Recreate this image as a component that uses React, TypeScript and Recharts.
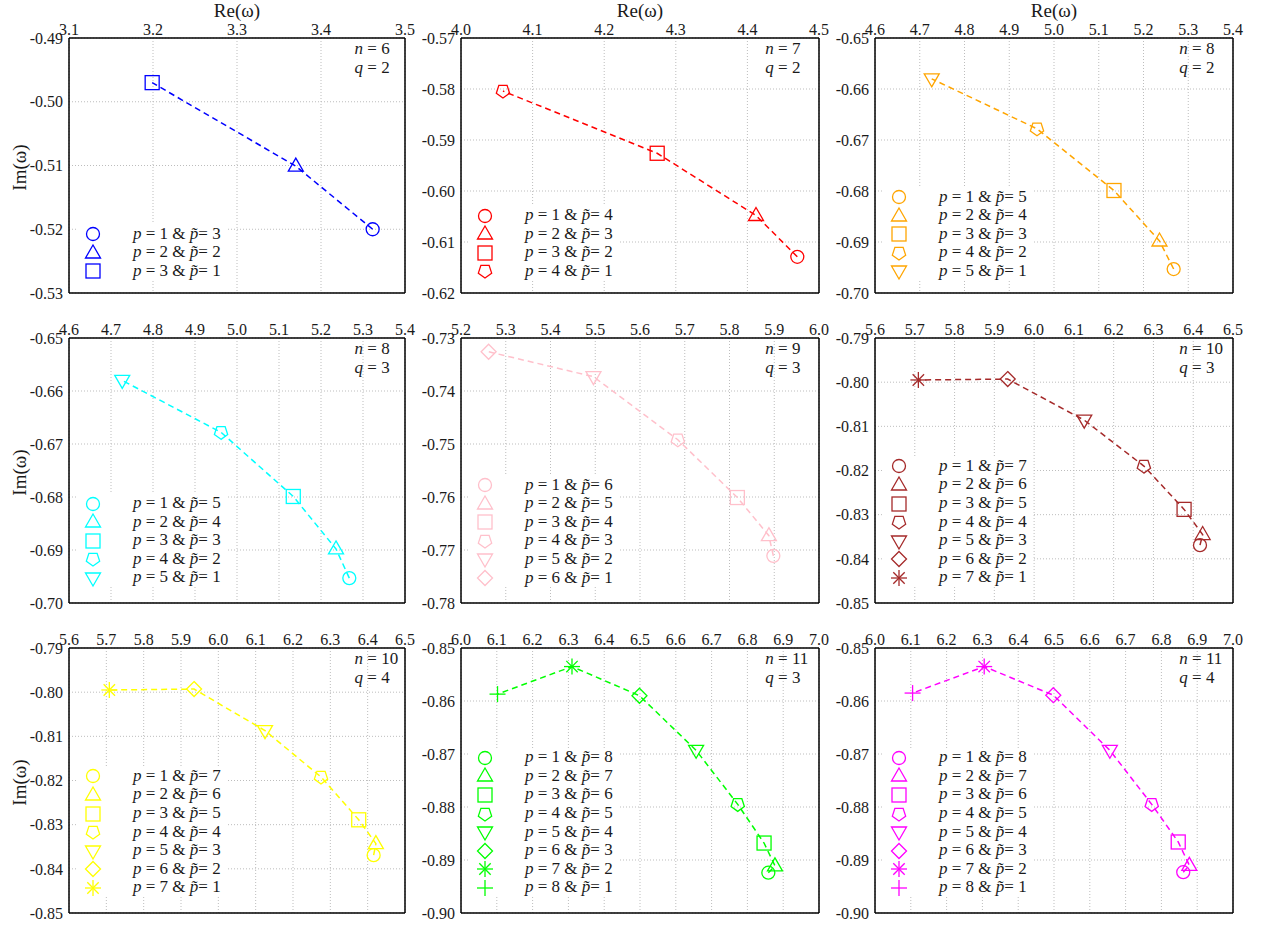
import { ScatterChart, Scatter, XAxis, YAxis, CartesianGrid } from 'recharts';

const FONT = '"Liberation Serif", "DejaVu Serif", serif';

// marker used for p = 1, 2, 3 ...
const MARKERS = ['circle', 'triangle', 'square', 'pentagon', 'triangleDown', 'diamond', 'asterisk', 'plus'];

// Re(ω) / Im(ω), index 0 is p = 1
const N6Q2_RE = [3.4615, 3.37, 3.199];
const N6Q2_IM = [-0.52, -0.5101, -0.497];

const N7Q2_RE = [4.4697, 4.412, 4.274, 4.0586];
const N7Q2_IM = [-0.6129, -0.6048, -0.5926, -0.5804];

const N8Q2_RE = [5.2674, 5.2357, 5.134, 4.962, 4.7267];
const N8Q2_IM = [-0.6953, -0.6898, -0.6799, -0.6678, -0.658];

const N8Q3_RE = [5.2674, 5.2357, 5.134, 4.962, 4.7267];
const N8Q3_IM = [-0.6953, -0.6898, -0.6799, -0.6678, -0.658];

const N9Q3_RE = [5.898, 5.888, 5.8176, 5.6845, 5.496, 5.2617];
const N9Q3_IM = [-0.7711, -0.7673, -0.7601, -0.7492, -0.7373, -0.7326];

const N10Q3_RE = [6.417, 6.4237, 6.377, 6.276, 6.126, 5.9336, 5.709];
const N10Q3_IM = [-0.8369, -0.8345, -0.8288, -0.819, -0.8086, -0.7993, -0.7995];

const N10Q4_RE = [6.416, 6.422, 6.376, 6.275, 6.125, 5.935, 5.708];
const N10Q4_IM = [-0.8369, -0.8343, -0.8289, -0.8192, -0.8087, -0.7993, -0.7995];

const N11Q3_RE = [6.8585, 6.877, 6.8465, 6.773, 6.6567, 6.4985, 6.31, 6.102];
const N11Q3_IM = [-0.8924, -0.8911, -0.8868, -0.8795, -0.8693, -0.859, -0.8535, -0.8587];

const N11Q4_RE = [6.861, 6.878, 6.847, 6.773, 6.656, 6.498, 6.305, 6.105];
const N11Q4_IM = [-0.8923, -0.891, -0.8866, -0.8795, -0.8693, -0.8589, -0.8535, -0.8585];

// tick labels
const XT_A = [3.1, 3.2, 3.3, 3.4, 3.5];
const YT_A = [-0.53, -0.52, -0.51, -0.5, -0.49];
const XT_B = [4.0, 4.1, 4.2, 4.3, 4.4, 4.5];
const YT_B = [-0.62, -0.61, -0.6, -0.59, -0.58, -0.57];
const XT_C = [4.6, 4.7, 4.8, 4.9, 5.0, 5.1, 5.2, 5.3, 5.4];
const YT_C = [-0.7, -0.69, -0.68, -0.67, -0.66, -0.65];
const XT_D = [5.2, 5.3, 5.4, 5.5, 5.6, 5.7, 5.8, 5.9, 6.0];
const YT_D = [-0.78, -0.77, -0.76, -0.75, -0.74, -0.73];
const XT_E = [5.6, 5.7, 5.8, 5.9, 6.0, 6.1, 6.2, 6.3, 6.4, 6.5];
const YT_E = [-0.85, -0.84, -0.83, -0.82, -0.81, -0.8, -0.79];
const XT_F = [6.0, 6.1, 6.2, 6.3, 6.4, 6.5, 6.6, 6.7, 6.8, 6.9, 7.0];
const YT_F = [-0.9, -0.89, -0.88, -0.87, -0.86, -0.85];

const PANELS = [
  { row: 0, col: 0, n: 6, q: 2, color: '#0000ff', re: N6Q2_RE, im: N6Q2_IM, xt: XT_A, yt: YT_A },
  { row: 0, col: 1, n: 7, q: 2, color: '#ff0000', re: N7Q2_RE, im: N7Q2_IM, xt: XT_B, yt: YT_B },
  { row: 0, col: 2, n: 8, q: 2, color: '#ffa500', re: N8Q2_RE, im: N8Q2_IM, xt: XT_C, yt: YT_C },
  { row: 1, col: 0, n: 8, q: 3, color: '#00ffff', re: N8Q3_RE, im: N8Q3_IM, xt: XT_C, yt: YT_C },
  { row: 1, col: 1, n: 9, q: 3, color: '#ffc0cb', re: N9Q3_RE, im: N9Q3_IM, xt: XT_D, yt: YT_D },
  { row: 1, col: 2, n: 10, q: 3, color: '#a52a2a', re: N10Q3_RE, im: N10Q3_IM, xt: XT_E, yt: YT_E },
  { row: 2, col: 0, n: 10, q: 4, color: '#ffff00', re: N10Q4_RE, im: N10Q4_IM, xt: XT_E, yt: YT_E },
  { row: 2, col: 1, n: 11, q: 3, color: '#00ff00', re: N11Q3_RE, im: N11Q3_IM, xt: XT_F, yt: YT_F },
  { row: 2, col: 2, n: 11, q: 4, color: '#ff00ff', re: N11Q4_RE, im: N11Q4_IM, xt: XT_F, yt: YT_F },
];

// plot-area boxes in page pixels
const COLS = [
  { left: 69, width: 336 },
  { left: 461, width: 358 },
  { left: 875, width: 358 },
];
const ROWS = [
  { top: 38, height: 255, legendBottom: 21.5 },
  { top: 338, height: 265, legendBottom: 25 },
  { top: 648, height: 265, legendBottom: 25 },
];

const ML = 69;
const MT = 38;
const MR = 12;
const MB = 12;
const LEGEND_STEP = 18.6;
const THIN = 0.01; // axis band size: must be > 0 or the axis is not drawn
const P_TILDE = 'p\u0303';

// 4 minor ticks between majors
function minorTicks(t: number[]) {
  const out: number[] = [];
  for (let i = 0; i < t.length - 1; i++) {
    for (let k = 1; k < 5; k++) out.push(t[i] + ((t[i + 1] - t[i]) * k) / 5);
  }
  return out;
}

function Marker({ type, cx, cy, color }: { type: string; cx: number; cy: number; color: string }) {
  const st = { fill: 'none', stroke: color, strokeWidth: 1.3 };
  switch (type) {
    case 'circle':
      return <circle cx={cx} cy={cy} r={6.5} {...st} />;
    case 'triangle':
      return <polygon points={`${cx},${cy - 8} ${cx + 7.5},${cy + 5} ${cx - 7.5},${cy + 5}`} {...st} />;
    case 'triangleDown':
      return <polygon points={`${cx},${cy + 8} ${cx + 7.5},${cy - 5} ${cx - 7.5},${cy - 5}`} {...st} />;
    case 'square':
      return <rect x={cx - 7} y={cy - 7} width={14} height={14} {...st} />;
    case 'pentagon': {
      const pts = [0, 1, 2, 3, 4]
        .map((k) => {
          const a = Math.PI / 2 + (k * 2 * Math.PI) / 5;
          return `${cx + 7 * Math.cos(a)},${cy + 7 * Math.sin(a)}`;
        })
        .join(' ');
      return <polygon points={pts} {...st} />;
    }
    case 'diamond':
      return <polygon points={`${cx},${cy - 7.5} ${cx + 7.5},${cy} ${cx},${cy + 7.5} ${cx - 7.5},${cy}`} {...st} />;
    case 'asterisk':
      return (
        <g {...st}>
          <line x1={cx - 8} y1={cy} x2={cx + 8} y2={cy} />
          <line x1={cx} y1={cy - 8} x2={cx} y2={cy + 8} />
          <line x1={cx - 5.7} y1={cy - 5.7} x2={cx + 5.7} y2={cy + 5.7} />
          <line x1={cx - 5.7} y1={cy + 5.7} x2={cx + 5.7} y2={cy - 5.7} />
        </g>
      );
    case 'plus':
      return (
        <g {...st}>
          <line x1={cx - 8} y1={cy} x2={cx + 8} y2={cy} />
          <line x1={cx} y1={cy - 8} x2={cx} y2={cy + 8} />
        </g>
      );
    default:
      return null;
  }
}

const tickStyle = { fill: '#1a1a1a', fontSize: 16, fontFamily: FONT };
const frame = { stroke: '#000', strokeWidth: 1.5 };
const tickLn = { stroke: '#000', strokeWidth: 1 };

function ImLabel(props: any) {
  const vb = props.viewBox;
  const x = vb.x - 49;
  const y = vb.y + vb.height / 2 + 2;
  return (
    <text
      x={x}
      y={y}
      transform={`rotate(-90 ${x} ${y})`}
      textAnchor="middle"
      dominantBaseline="central"
      fontSize={19}
      fontFamily={FONT}
      fill="#1a1a1a"
    >
      Im(ω)
    </text>
  );
}

const txt = {
  fontSize: 17,
  lineHeight: '19px',
  fontFamily: FONT,
  color: '#1a1a1a',
  whiteSpace: 'nowrap' as const,
};

function Panel({ cfg }: { cfg: (typeof PANELS)[number] }) {
  const col = COLS[cfg.col];
  const row = ROWS[cfg.row];
  const W = col.width + ML + MR;
  const H = row.height + MT + MB;
  const data = cfg.re.map((x, i) => ({ x, y: cfg.im[i], m: MARKERS[i] }));
  const xd = [cfg.xt[0], cfg.xt[cfg.xt.length - 1]];
  const yd = [cfg.yt[0], cfg.yt[cfg.yt.length - 1]];
  const xMinor = minorTicks(cfg.xt);
  const yMinor = minorTicks(cfg.yt);

  const count = data.length;
  const lastC = row.top + row.height - row.legendBottom;
  const firstC = lastC - (count - 1) * LEGEND_STEP;

  return (
    <>
      <div style={{ position: 'absolute', left: col.left - ML, top: row.top - MT, width: W, height: H }}>
        <ScatterChart width={W} height={H} margin={{ top: MT, right: MR, bottom: MB, left: ML }}>
          <CartesianGrid xAxisId="lab" yAxisId="lab" stroke="#bdbdbd" strokeDasharray="1 2" />
          <XAxis xAxisId="tM" orientation="top" mirror type="number" domain={xd} ticks={cfg.xt} interval={0}
            allowDataOverflow height={THIN} tickSize={6} tick={false} axisLine={false} tickLine={tickLn} />
          <XAxis xAxisId="tm" orientation="top" mirror type="number" domain={xd} ticks={xMinor} interval={0}
            allowDataOverflow height={THIN} tickSize={3} tick={false} axisLine={false} tickLine={tickLn} />
          <XAxis xAxisId="bM" orientation="bottom" mirror type="number" domain={xd} ticks={cfg.xt} interval={0}
            allowDataOverflow height={THIN} tickSize={6} tick={false} axisLine={frame} tickLine={tickLn} />
          <XAxis xAxisId="bm" orientation="bottom" mirror type="number" domain={xd} ticks={xMinor} interval={0}
            allowDataOverflow height={THIN} tickSize={3} tick={false} axisLine={false} tickLine={tickLn} />
          <XAxis
            xAxisId="lab"
            orientation="top"
            type="number"
            dataKey="x"
            domain={xd}
            ticks={cfg.xt}
            interval={0}
            allowDataOverflow
            height={THIN}
            tickSize={0}
            tickLine={false}
            tickMargin={3}
            axisLine={frame}
            tick={tickStyle}
            tickFormatter={(v: number) => v.toFixed(1)}
            label={
              cfg.row === 0
                ? { value: 'Re(ω)', position: 'top', offset: 21, fontSize: 19, fontFamily: FONT, fill: '#1a1a1a' }
                : undefined
            }
          />
          <YAxis yAxisId="lM" orientation="left" mirror type="number" domain={yd} ticks={cfg.yt} interval={0}
            allowDataOverflow width={THIN} tickSize={6} tick={false} axisLine={false} tickLine={tickLn} />
          <YAxis yAxisId="lm" orientation="left" mirror type="number" domain={yd} ticks={yMinor} interval={0}
            allowDataOverflow width={THIN} tickSize={3} tick={false} axisLine={false} tickLine={tickLn} />
          <YAxis yAxisId="rM" orientation="right" mirror type="number" domain={yd} ticks={cfg.yt} interval={0}
            allowDataOverflow width={THIN} tickSize={6} tick={false} axisLine={frame} tickLine={tickLn} />
          <YAxis yAxisId="rm" orientation="right" mirror type="number" domain={yd} ticks={yMinor} interval={0}
            allowDataOverflow width={THIN} tickSize={3} tick={false} axisLine={false} tickLine={tickLn} />
          <YAxis
            yAxisId="lab"
            orientation="left"
            type="number"
            dataKey="y"
            domain={yd}
            ticks={cfg.yt}
            interval={0}
            allowDataOverflow
            width={THIN}
            tickSize={0}
            tickLine={false}
            tickMargin={6}
            axisLine={frame}
            tick={tickStyle}
            tickFormatter={(v: number) => v.toFixed(2)}
            label={cfg.col === 0 ? { content: ImLabel } : undefined}
          />
          <Scatter
            xAxisId="lab"
            yAxisId="lab"
            data={data}
            dataKey="y"
            fill="none"
            stroke={cfg.color}
            line={{ stroke: cfg.color, strokeWidth: 1.5, strokeDasharray: '6 4' }}
            lineType="joint"
            isAnimationActive={false}
            shape={(p: any) => <Marker type={p.payload.m} cx={p.cx} cy={p.cy} color={cfg.color} />}
          />
        </ScatterChart>
      </div>

      {/* legend: white box hides the grid behind it */}
      <div
        style={{
          position: 'absolute',
          left: col.left + 9,
          top: firstC - 10,
          width: 149,
          height: lastC - firstC + 19,
          background: '#fff',
        }}
      >
        {data.map((d, i) => {
          const c = firstC + i * LEGEND_STEP - (firstC - 10);
          return (
            <div key={i} style={{ position: 'absolute', left: 4, top: c - 11, width: 145, height: 22 }}>
              <svg width={22} height={22} style={{ position: 'absolute', left: 0, top: 0, overflow: 'visible' }}>
                <Marker type={d.m} cx={11} cy={11} color={cfg.color} />
              </svg>
              <span style={{ ...txt, position: 'absolute', left: 51, top: 0.5, width: 94, height: 19 }}>
                <i>p</i>
                {` = ${i + 1} & `}
                <i>{P_TILDE}</i>
                {`= ${count - i}`}
              </span>
            </div>
          );
        })}
      </div>

      {/* n, q */}
      <div
        style={{
          ...txt,
          position: 'absolute',
          left: col.left + 0.85 * col.width,
          top: row.top + 1,
          width: 50,
          height: 38,
        }}
      >
        <div style={{ height: 19 }}>
          <i>n</i>
          {` = ${cfg.n}`}
        </div>
        <div style={{ height: 19 }}>
          <i>q</i>
          {` = ${cfg.q}`}
        </div>
      </div>
    </>
  );
}

export default function App() {
  return (
    <div style={{ position: 'absolute', left: 0, top: 0, width: 1264, height: 929, background: '#fff' }}>
      {PANELS.map((cfg, i) => (
        <Panel key={i} cfg={cfg} />
      ))}
    </div>
  );
}
